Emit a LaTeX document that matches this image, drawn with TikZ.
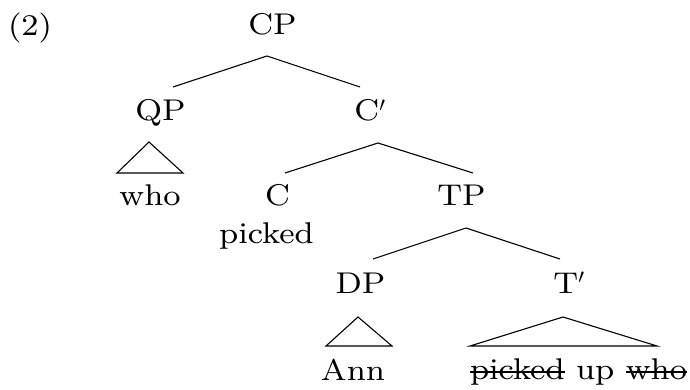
\documentclass[tikz,border=0pt]{standalone}
\usepackage{fontspec}
\setmainfont{lmroman8-regular.otf}[FakeStretch=1.08]
% struck-through word: a rule at half the x-height across the word
\newcommand\strk[1]{\setbox0\hbox{#1}\rlap{\rule[0.5ex]{\wd0}{1.1pt}}\box0\relax}
\begin{document}
\begin{tikzpicture}[x=1pt,y=-1pt,
  lbl/.style={anchor=base,inner sep=0pt,font=\fontsize{30}{36}\selectfont},
  branch/.style={line width=1.1pt},
  roof/.style={line width=1.1pt,line join=miter}]
\useasboundingbox (0,0) rectangle (690,390);

% example number
\node[lbl] (num) at (30,36) {(2)};

% labels
\node[lbl] (CP)  at (272.5,35)  {CP};
\node[lbl] (QP)  at (160.5,121) {QP};
\node[lbl] (Cb)  at (370,121)   {C$'$};
\node[lbl] (who) at (150,205)   {who};
\node[lbl] (C)   at (277.5,205) {C};
\node[lbl] (TP)  at (461.5,205) {TP};
\node[lbl] (pk)  at (266.5,243) {picked};
\node[lbl] (DP)  at (360.5,293) {DP};
\node[lbl] (Tb)  at (569,293)   {T$'$};
\node[lbl] (Ann) at (353,380)   {Ann};
\node[lbl] (VP)  at (578.5,379) {\strk{picked} up \strk{who}};

% branch points below each mother node and tops of daughters
\coordinate (CP-a) at (267,56);
\coordinate (QP-t) at (173,87);
\coordinate (Cb-t) at (360,87);
\coordinate (Cb-a) at (378,143);
\coordinate (C-t)  at (285,173);
\coordinate (TP-t) at (473,173);
\coordinate (TP-a) at (466,228);
\coordinate (DP-t) at (373,259);
\coordinate (Tb-t) at (560,259);

% branches
\draw[branch] (QP-t) -- (CP-a) -- (Cb-t);
\draw[branch] (C-t) -- (Cb-a) -- (TP-t);
\draw[branch] (DP-t) -- (TP-a) -- (Tb-t);

% roofs
\coordinate (QP-r) at (149,142);
\draw[roof] (QP-r) -- (117,173) -- (183,173) -- cycle;
\coordinate (DP-r) at (358,317);
\draw[roof] (DP-r) -- (326,346) -- (392,346) -- cycle;
\coordinate (Tb-r) at (563,317);
\draw[roof] (Tb-r) -- (470,346) -- (657,346) -- cycle;
\end{tikzpicture}
\end{document}
